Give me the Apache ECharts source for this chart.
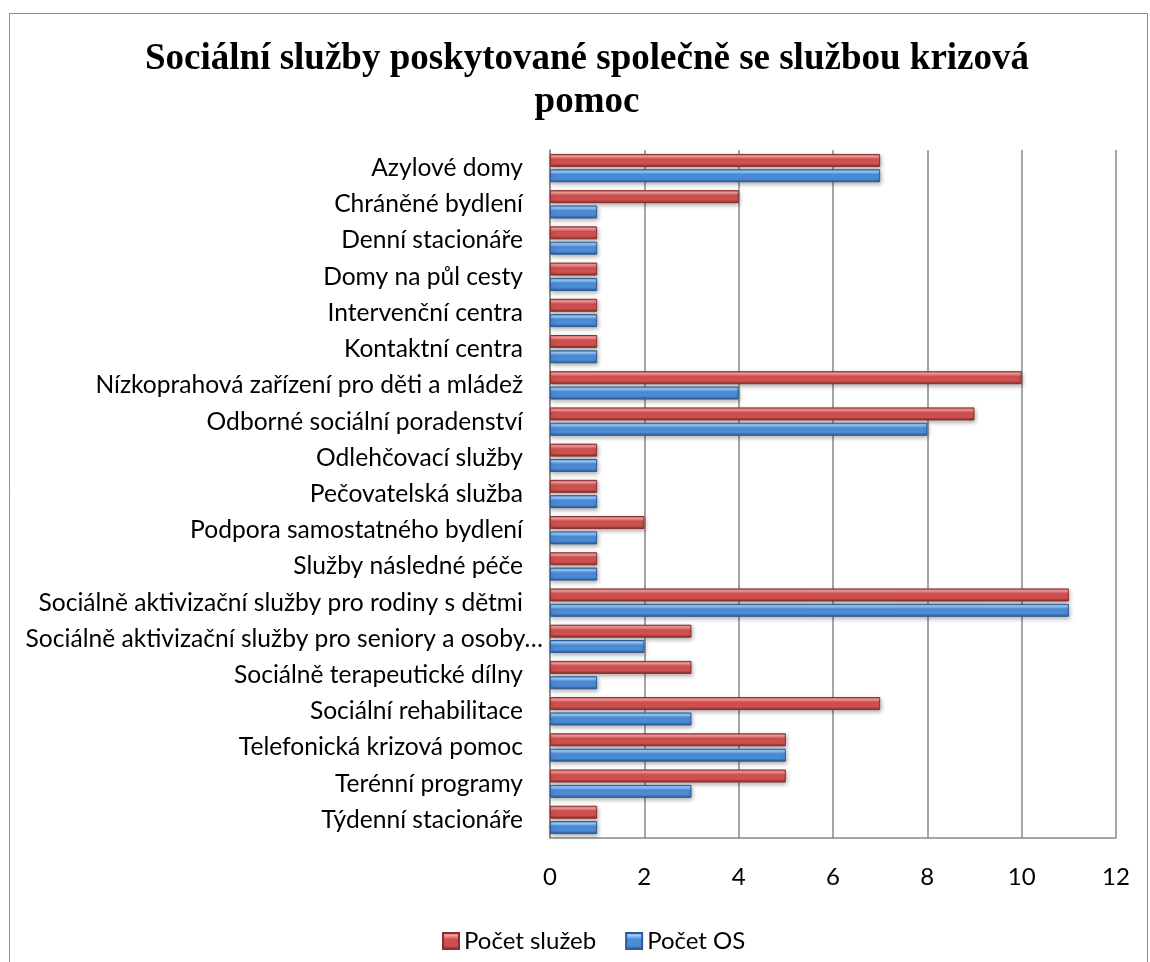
<!DOCTYPE html>
<html><head><meta charset="utf-8">
<script src="https://cdn.jsdelivr.net/npm/echarts@6/dist/echarts.min.js"></script>
<style>html,body{margin:0;padding:0;background:#fff}#c{width:1150px;height:962px}</style>
</head><body><div id="c"></div>
<script>
var categories = ["Azylové domy","Chráněné bydlení","Denní stacionáře","Domy na půl cesty","Intervenční centra","Kontaktní centra","Nízkoprahová zařízení pro děti a mládež","Odborné sociální poradenství","Odlehčovací služby","Pečovatelská služba","Podpora samostatného bydlení","Služby následné péče","Sociálně aktivizační služby pro rodiny s dětmi","Sociálně aktivizační služby pro seniory a osoby…","Sociálně terapeutické dílny","Sociální rehabilitace","Telefonická krizová pomoc","Terénní programy","Týdenní stacionáře"];
var pocetSluzeb = [7,4,1,1,1,1,10,9,1,1,2,1,11,3,3,7,5,5,1];
var pocetOS = [7,1,1,1,1,1,4,8,1,1,1,1,11,2,1,3,5,3,1];
var seriesNames = ["Počet služeb","Počet OS"];
var xTicks = {min:0,max:12,interval:2};

function grad(light, mid, dark){
  return new echarts.graphic.LinearGradient(0,0,0,1,[
    {offset:0,color:mid},{offset:0.18,color:light},{offset:0.4,color:mid},{offset:0.75,color:mid},{offset:1,color:dark}]);
}
var yData = categories.map(function(c){
  if (c.slice(-1) === '…') return {value:c, textStyle:{padding:[0,-20,0,0]}};
  return c;
});
var chart = echarts.init(document.getElementById('c'));
chart.setOption({
  backgroundColor:'#fff',
  animation:false,
  title:{text:"Sociální služby poskytované společně se službou krizová\npomoc",left:582,textAlign:'center',top:33,
    textStyle:{fontFamily:'Liberation Serif',fontWeight:'bold',fontSize:37,color:'#000',lineHeight:43}},
  graphic:[{type:'rect',shape:{x:9.5,y:13.5,width:1138,height:1000},style:{fill:'none',stroke:'#8c8c8c',lineWidth:1},z:-1}],
  legend:{top:924,left:437,itemWidth:16,itemHeight:16,itemGap:29,icon:'rect',
    textStyle:{fontFamily:'Lato',fontSize:24,color:'#000'},data:seriesNames},
  grid:{left:550,right:34,top:150,bottom:124,containLabel:false},
  xAxis:{type:'value',min:xTicks.min,max:xTicks.max,interval:xTicks.interval,
    axisLine:{show:true,lineStyle:{color:'#888',width:1.5}},axisTick:{show:false},
    splitLine:{show:true,lineStyle:{color:'#888',width:1.5}},
    axisLabel:{margin:27,fontFamily:'Lato',fontSize:24,color:'#000'}},
  yAxis:{type:'category',data:yData,inverse:true,
    axisLine:{show:true,lineStyle:{color:'#888',width:1.5}},axisTick:{show:false},
    axisLabel:{margin:27,fontFamily:'Lato',fontSize:24.6,color:'#000'}},
  series:[
    {name:seriesNames[0],type:'bar',data:pocetSluzeb,barWidth:13,barGap:'18%',
     itemStyle:{color:grad('#f4a3a1','#cf514f','#7e2a28'),borderColor:'#8a2f2d',borderWidth:1,shadowColor:'rgba(0,0,0,0.3)',shadowBlur:4,shadowOffsetY:2,shadowOffsetX:1}},
    {name:seriesNames[1],type:'bar',data:pocetOS,barWidth:13,barGap:'18%',
     itemStyle:{color:grad('#9fd0fb','#4c8bd6','#2a558c'),borderColor:'#2d5a92',borderWidth:1,shadowColor:'rgba(0,0,0,0.3)',shadowBlur:4,shadowOffsetY:2,shadowOffsetX:1}}
  ]
});
</script></body></html>
